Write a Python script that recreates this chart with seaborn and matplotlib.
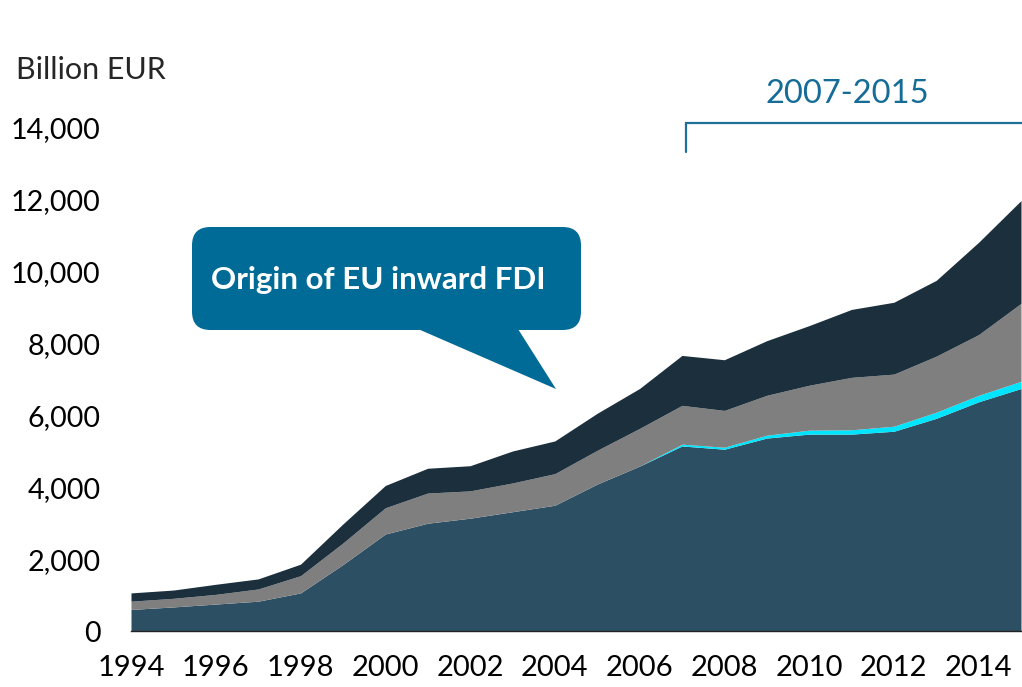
import numpy as np
import matplotlib.pyplot as plt
import seaborn as sns
from matplotlib.patches import FancyBboxPatch, Polygon

# --- data (billion EUR) ---
years = list(range(1994, 2016))
layer_bottom = [600, 670, 750, 830, 1060, 1850, 2700, 3000, 3140, 3320, 3500,
                4090, 4590, 5150, 5060, 5370, 5480, 5480, 5560, 5920, 6380, 6750]
layer_cyan = [0, 0, 0, 0, 0, 0, 0, 0, 0, 0, 0, 0, 0,
              50, 55, 80, 110, 120, 140, 170, 180, 200]
layer_gray = [230, 240, 270, 340, 480, 600, 730, 840, 760, 800, 880,
              940, 1050, 1080, 1025, 1110, 1250, 1460, 1450, 1560, 1690, 2170]
layer_top = [230, 230, 280, 280, 320, 530, 620, 690, 700, 890, 910,
             1030, 1110, 1390, 1410, 1520, 1660, 1890, 2000, 2110, 2570, 2860]
layer_colors = ["#2C4F64", "#00E5FF", "#7F7F7F", "#1B2F3C"]

ytick_values = [0, 2000, 4000, 6000, 8000, 10000, 12000, 14000]

sns.set_theme(style="white")
plt.rcParams['font.family'] = ['Lato', 'DejaVu Sans']

W, H = 1022, 687
fig = plt.figure(figsize=(W / 100, H / 100), dpi=100)
ax = fig.add_axes([131 / W, 1 - 631 / H, (1021 - 131) / W, (631 - 128) / H])

ax.stackplot(years, layer_bottom, layer_cyan, layer_gray, layer_top,
             colors=layer_colors, linewidth=0)

ax.set_xlim(1994, 2015)
ax.set_ylim(0, 14000)
ax.set_yticks(ytick_values)
ax.set_yticklabels([f"{v:,}" for v in ytick_values])
ax.set_xticks(years)
ax.set_xticklabels([str(y) if y % 2 == 0 else "" for y in years])

for s in ["top", "right", "left"]:
    ax.spines[s].set_visible(False)
ax.spines["bottom"].set_color("#222222")
ax.spines["bottom"].set_linewidth(1.0)
ax.tick_params(axis="y", length=0, pad=22, labelsize=20.7, labelcolor="black")
ax.tick_params(axis="x", length=6.5, width=1.0, color="#333333", direction="out",
               pad=11, labelsize=21, labelcolor="black")
ax.grid(False)

fig.text(16 / W, 1 - 70 / H, "Billion EUR", fontsize=22, va="center", ha="left")

# bracket for 2007-2015
bcol = "#1F6F99"
ax.plot([2007.1, 2007.1, 2015.2], [13330, 14140, 14140], color=bcol, lw=1.6,
        clip_on=False, solid_joinstyle="miter")
ax.text(2010.9, 14950, "2007-2015", color="#156C97", fontsize=23.5,
        ha="center", va="center")

# callout bubble
ccol = "#006B96"
def fx(px):
    return px / W
def fy(py):
    return 1 - py / H

box = FancyBboxPatch((fx(192), fy(330)), fx(581) - fx(192), fy(227) - fy(330),
                     boxstyle="round,pad=0,rounding_size=0.018",
                     transform=fig.transFigure, facecolor=ccol, edgecolor="none",
                     mutation_aspect=W / H)
fig.patches.append(box)
tail = Polygon([(fx(418), fy(329)), (fx(518), fy(329)), (fx(556), fy(389))],
               closed=True, transform=fig.transFigure, facecolor=ccol, edgecolor="none")
fig.patches.append(tail)
fig.text(fx(211), fy(280), "Origin of EU inward FDI", color="white",
         fontsize=22.5, fontweight="bold", ha="left", va="center")

fig.savefig("out.png", dpi=100)
